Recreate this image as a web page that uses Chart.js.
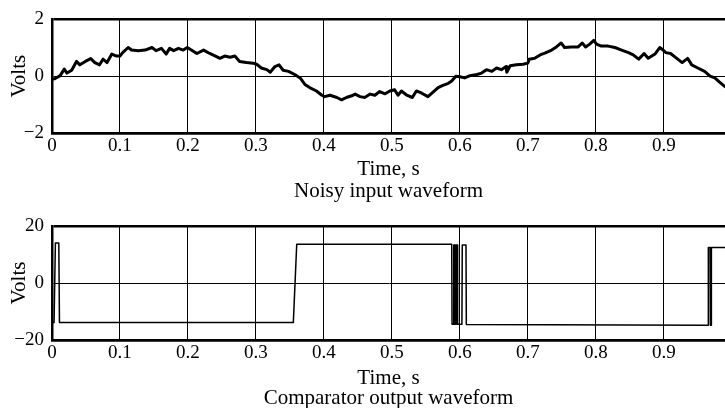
<!DOCTYPE html>
<html><head><meta charset="utf-8">
<script src="https://cdn.jsdelivr.net/npm/chart.js@4"></script>
<style>
html,body{margin:0;padding:0;background:#fff;overflow:hidden;width:725px;height:408px}
#c1{position:absolute;left:0;top:0}
#c2{position:absolute;left:0;top:200px}
</style></head><body>
<canvas id="c1" width="725" height="202"></canvas>
<canvas id="c2" width="725" height="208"></canvas>
<script>
// ---- data ----
const noisyTime = [0.000,0.004,0.012,0.018,0.022,0.029,0.036,0.041,0.049,0.057,0.063,0.070,0.075,0.081,0.088,0.095,0.100,0.104,0.112,0.117,0.127,0.137,0.147,0.153,0.161,0.168,0.173,0.179,0.186,0.193,0.199,0.205,0.213,0.223,0.232,0.242,0.247,0.254,0.262,0.269,0.276,0.286,0.296,0.301,0.308,0.316,0.321,0.328,0.334,0.340,0.348,0.357,0.365,0.372,0.379,0.389,0.397,0.401,0.409,0.419,0.426,0.433,0.441,0.446,0.453,0.460,0.468,0.475,0.482,0.490,0.497,0.504,0.509,0.514,0.522,0.530,0.536,0.544,0.553,0.561,0.568,0.575,0.583,0.588,0.594,0.600,0.607,0.615,0.625,0.632,0.639,0.647,0.654,0.661,0.668,0.669,0.674,0.683,0.693,0.700,0.702,0.710,0.718,0.725,0.735,0.742,0.749,0.754,0.764,0.774,0.780,0.785,0.791,0.797,0.801,0.808,0.818,0.828,0.838,0.848,0.855,0.863,0.871,0.877,0.887,0.894,0.899,0.903,0.910,0.919,0.927,0.935,0.941,0.950,0.960,0.968,0.975,0.982,0.990];
const noisyVolts = [-0.10,-0.09,0.02,0.25,0.11,0.21,0.52,0.40,0.52,0.62,0.48,0.40,0.60,0.48,0.78,0.71,0.71,0.83,1.01,0.92,0.90,0.92,1.01,0.90,0.98,0.78,0.98,0.90,0.98,0.92,1.01,0.92,0.80,0.92,0.80,0.69,0.63,0.71,0.67,0.71,0.52,0.48,0.46,0.42,0.29,0.23,0.14,0.34,0.40,0.21,0.17,0.06,-0.06,-0.29,-0.40,-0.52,-0.67,-0.72,-0.67,-0.75,-0.83,-0.75,-0.69,-0.63,-0.72,-0.75,-0.63,-0.67,-0.54,-0.62,-0.52,-0.48,-0.67,-0.52,-0.67,-0.75,-0.52,-0.60,-0.72,-0.55,-0.40,-0.32,-0.25,-0.17,0.00,-0.02,-0.06,0.02,0.06,0.11,0.23,0.17,0.29,0.23,0.34,0.14,0.37,0.40,0.42,0.46,0.60,0.63,0.75,0.81,0.92,1.03,1.17,1.01,1.03,1.03,1.17,1.03,1.13,1.26,1.13,1.06,1.06,1.01,0.92,0.83,0.75,0.60,0.80,0.63,0.78,1.01,0.92,0.83,0.80,0.63,0.48,0.63,0.40,0.29,0.17,0.00,-0.06,-0.21,-0.37];

const compTime  = [0.000,0.003,0.005,0.010,0.011,0.355,0.360,0.588,0.5885,0.5905,0.591,0.592,0.5925,0.593,0.5935,0.5945,0.595,0.5955,0.596,0.5965,0.597,0.603,0.6035,0.609,0.6095,0.965,0.9655,0.968,0.9685,0.9695,0.970,0.990];
const compVolts = [-13.9,-13.9,14.0,14.0,-13.9,-13.9,13.6,13.6,-14.5,-14.5,13.3,13.3,-14.5,-14.5,13.3,13.3,-14.5,-14.5,13.3,13.3,-14.5,-14.5,13.3,13.3,-14.6,-14.8,12.5,12.5,-14.8,-14.8,12.5,12.5];

const timeTicks  = [0,0.1,0.2,0.3,0.4,0.5,0.6,0.7,0.8,0.9];
const timeLabels = ['0','0.1','0.2','0.3','0.4','0.5','0.6','0.7','0.8','0.9'];
const noisyYTicks  = [-2,0,2];
const noisyYLabels = ['\u22122','0','2'];
const compYTicks  = [-20,0,20];
const compYLabels = ['\u221220','0','20'];

Chart.defaults.font.family = '"Liberation Serif", "DejaVu Serif", serif';
Chart.defaults.color = '#000';

function makeChart(canvas, p) {
  return new Chart(canvas, {
    type: 'line',
    data: { datasets: [{
      data: p.xs.map((t, i) => ({ x: t, y: p.ys[i] })),
      borderColor: '#000', borderWidth: p.lw, pointRadius: 0, tension: 0,
      fill: false, borderJoinStyle: 'round', borderCapStyle: 'round'
    }]},
    options: {
      responsive: false, animation: false, events: [],
      layout: { padding: { top: p.padTop, left: 0, right: 0, bottom: 0 } },
      plugins: { legend: { display: false }, tooltip: { enabled: false } },
      scales: {
        x: {
          type: 'linear', min: 0, max: 0.99,
          afterBuildTicks: s => { s.ticks = timeTicks.map(v => ({ value: v })); },
          ticks: { callback: (v, i) => timeLabels[i], padding: p.xTickPad, font: { size: 19 }, maxRotation: 0, autoSkip: false, color: '#000' },
          grid: { drawTicks: false, color: '#000', lineWidth: c => (c.index === 0 ? 0 : 1) },
          border: { display: true, color: '#000', width: 2.5 },
          title: { display: true, text: p.xTitle, color: '#000', font: { size: 21, lineHeight: p.titleLH }, padding: { top: 0, bottom: p.titlePadB } },
          afterFit: s => { s.height = p.xHeight; }
        },
        y: {
          min: p.yTicks[0], max: p.yTicks[p.yTicks.length - 1],
          afterBuildTicks: s => { s.ticks = p.yTicks.map(v => ({ value: v })); },
          ticks: { callback: (v, i) => p.yLabels[i], padding: 8, font: { size: 19 }, color: '#000' },
          grid: { drawTicks: false, color: '#000', lineWidth: c => (c.tick && c.tick.value === 0 ? 1 : 2.5) },
          border: { display: true, color: '#000', width: 2.5 },
          title: { display: true, text: 'Volts', color: '#000', font: { size: 21 }, padding: { top: 7, bottom: 0 } },
          afterFit: s => { s.width = 52; }
        }
      }
    }
  });
}

makeChart(document.getElementById('c1'), {
  xs: noisyTime, ys: noisyVolts, lw: 3, padTop: 17, xHeight: 69, xTickPad: 2,
  xTitle: ['Time, s', 'Noisy input waveform'], titleLH: 22 / 21, titlePadB: 0,
  yTicks: noisyYTicks, yLabels: noisyYLabels
});
makeChart(document.getElementById('c2'), {
  xs: compTime, ys: compVolts, lw: 1.5, padTop: 26, xHeight: 68, xTickPad: 2,
  xTitle: ['Time, s', 'Comparator output waveform'], titleLH: 20 / 21, titlePadB: 0,
  yTicks: compYTicks, yLabels: compYLabels
});
</script>
</body></html>
